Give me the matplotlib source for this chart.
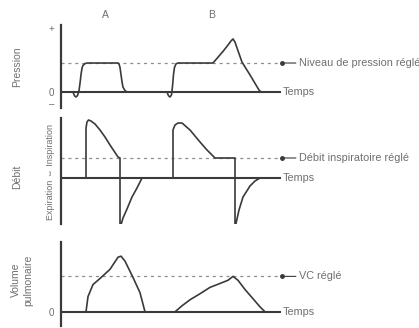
import matplotlib
matplotlib.use('Agg')
import matplotlib.pyplot as plt
import numpy as np

plt.rcParams['font.family'] = ['Liberation Sans Narrow', 'Liberation Sans', 'DejaVu Sans']

# --- data (time in arbitrary units, values relative to the set level) ---
cycles = ['A', 'B']
cycle_label_t = [4.4, 15.1]

pression_A_t = [1.2, 1.35, 1.5, 1.65, 1.8, 1.9, 2.0, 2.1, 2.2, 2.4, 2.6, 5.7, 5.8, 5.9, 6.0, 6.1, 6.2, 6.4, 6.6, 7.0]
pression_A_v = [0, -0.13, -0.17, -0.12, 0.05, 0.3, 0.6, 0.82, 0.92, 0.98, 1.0, 1.0, 0.97, 0.85, 0.6, 0.35, 0.17, 0.05, 0.0, 0.0]
pression_B_t = [10.6, 10.75, 10.9, 11.05, 11.15, 11.25, 11.35, 11.5, 11.7, 15.2, 15.7, 16.2, 16.7, 17.0, 17.2, 17.4, 17.6, 18.1, 18.9, 19.4, 19.8, 20.0]
pression_B_v = [0, -0.13, -0.17, -0.1, 0.2, 0.6, 0.85, 0.97, 1.0, 1.0, 1.2, 1.4, 1.62, 1.76, 1.83, 1.72, 1.52, 1.03, 0.59, 0.3, 0.07, 0.0]

debit_A_t = [2.5, 2.5, 2.6, 2.75, 3.0, 3.4, 3.9, 4.4, 4.9, 5.3, 5.7, 5.9, 5.9, 6.2, 6.6, 7.1, 7.6, 8.1]
debit_A_v = [0, 2.5, 2.8, 2.9, 2.85, 2.7, 2.4, 2.05, 1.65, 1.35, 1.05, 1.0, -2.5, -2.0, -1.55, -0.95, -0.5, 0.0]
debit_B_t = [11.2, 11.2, 11.4, 11.7, 12.1, 12.9, 13.9, 14.6, 15.4, 17.4, 17.4, 17.8, 18.2, 18.9, 19.4, 19.9]
debit_B_v = [0, 2.4, 2.65, 2.75, 2.75, 2.4, 1.8, 1.4, 1.0, 1.0, -2.5, -1.6, -0.95, -0.4, -0.15, 0.0]

volume_A_t = [2.5, 2.7, 3.2, 3.9, 4.9, 5.7, 6.0, 6.4, 7.2, 7.9, 8.4]
volume_A_v = [0, 0.43, 0.77, 0.94, 1.2, 1.54, 1.57, 1.43, 0.97, 0.54, 0]
volume_B_t = [11.4, 12.1, 12.9, 13.9, 14.9, 15.9, 16.7, 17.2, 17.7, 18.4, 19.2, 19.9, 20.4]
volume_B_v = [0, 0.17, 0.34, 0.51, 0.69, 0.8, 0.89, 1.0, 0.89, 0.63, 0.37, 0.14, 0]

panel_names = ['Pression', 'Débit', 'Volume\npulmonaire']
set_labels = ['Niveau de pression réglé', 'Débit inspiratoire réglé', 'VC réglé']
set_levels = [1.0, 1.0, 1.0]
ylims = [(-0.55, 2.31), (-2.3, 3.0), (-0.4, 1.97)]
ytick_vals = [[2.2, 0, -0.38], [], [0]]
ytick_labels = [['+', '0', '\u2013'], [], ['0']]

W, H = 419, 328
line_c = '#3a3a3a'
text_c = '#6f6f6f'

fig = plt.figure(figsize=(W / 100, H / 100), dpi=100)
fig.patch.set_facecolor('white')

# axes boxes in pixels: (left, top, right, bottom)
boxes = [(61, 25, 282, 108), (61, 118, 282, 224), (61, 242, 282, 326)]
curves = [
    [(pression_A_t, pression_A_v), (pression_B_t, pression_B_v)],
    [(debit_A_t, debit_A_v), (debit_B_t, debit_B_v)],
    [(volume_A_t, volume_A_v), (volume_B_t, volume_B_v)],
]
name_pos = [(17, 67), (17, 177), (22, 280)]

for i, (l, t, r, b) in enumerate(boxes):
    ax = fig.add_axes([l / W, 1 - b / H, (r - l) / W, (b - t) / H])
    ax.set_xlim(0, 22.1)
    ax.set_ylim(*ylims[i])
    for s in ['top', 'right', 'bottom']:
        ax.spines[s].set_visible(False)
    ax.spines['left'].set_color(line_c)
    ax.spines['left'].set_linewidth(1.6)
    ax.set_xticks([])
    ax.set_yticks(ytick_vals[i])
    ax.set_yticklabels(ytick_labels[i], fontsize=7, color=text_c)
    ax.tick_params(axis='y', length=0, pad=5)
    ax.patch.set_alpha(0)

    # zero line and set level
    ax.axhline(0, xmin=0, xmax=0.99, color=line_c, lw=1.5)
    ax.axhline(set_levels[i], xmin=0, xmax=1.0, color='#909090', lw=0.9, ls=(0, (2.5, 3)))

    for ct, cv in curves[i]:
        ax.plot(ct, cv, color=line_c, lw=1.2, solid_joinstyle='round')

    ax.plot([22.1], [set_levels[i]], 'o', color=line_c, ms=2.5, clip_on=False)
    ax.annotate(set_labels[i], xy=(22.1, set_levels[i]), xytext=(12, 0),
                textcoords='offset points', va='center', ha='left',
                fontsize=7.8, color=text_c,
                arrowprops=dict(arrowstyle='-', color=line_c, lw=0.8,
                                shrinkA=0, shrinkB=0))
    ax.text(22.2, 0, 'Temps', va='center', ha='left', fontsize=7.8, color=text_c)

    fig.text(name_pos[i][0] / W, 1 - name_pos[i][1] / H, panel_names[i],
             rotation=90, ha='center', va='center', fontsize=7.5, color=text_c,
             linespacing=1.3)

    if i == 0:
        for lab, lt in zip(cycles, cycle_label_t):
            ax.text(lt, 2.65, lab, ha='center', va='center', fontsize=7.5,
                    color=text_c, clip_on=False)

fig.text(50 / W, 1 - 172 / H, 'Expiration \u21d4 Inspiration', rotation=90,
         ha='center', va='center', fontsize=6.5, color=text_c)

fig.savefig('out.png', dpi=100)
